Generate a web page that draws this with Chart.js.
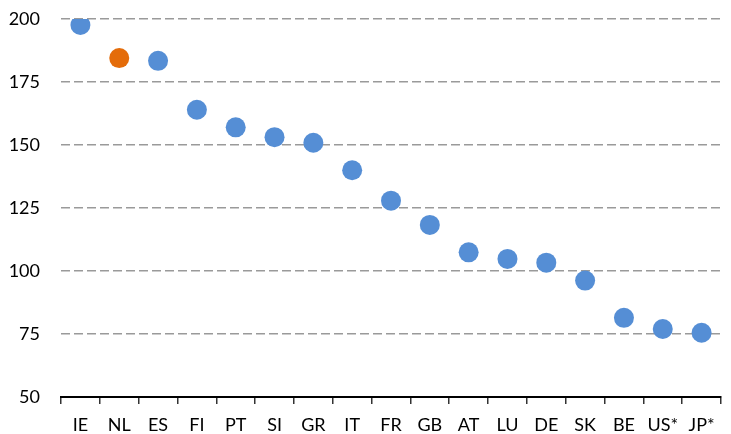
<!DOCTYPE html>
<html lang="en">
<head>
    <meta charset="UTF-8">
    <title>Dot chart</title>
    <script src="https://cdn.jsdelivr.net/npm/chart.js"></script>
    <style>
        html, body { margin: 0; padding: 0; background: #fff; }
        #chart { display: block; }
    </style>
</head>
<body>
    <canvas id="chart" width="731" height="434"></canvas>

    <script>
        const paises = ['IE', 'NL', 'ES', 'FI', 'PT', 'SI', 'GR', 'IT', 'FR', 'GB', 'AT', 'LU', 'DE', 'SK', 'BE', 'US*', 'JP*'];
        const valores = [197.6, 184.5, 183.4, 164, 157, 153.1, 150.9, 140, 127.9, 118.3, 107.4, 104.8, 103.3, 96.2, 81.4, 77, 75.5];
        const yMin = 50;
        const yMax = 200;
        const yPaso = 25;

        const azul = '#558ED5';
        const naranja = '#E46C0A';
        const colores = paises.map(p => p === 'NL' ? naranja : azul);

        const ctx = document.getElementById('chart').getContext('2d');
        new Chart(ctx, {
            type: 'scatter',
            data: {
                labels: paises,
                datasets: [{
                    data: valores,
                    pointRadius: 10,
                    pointHoverRadius: 10,
                    pointBackgroundColor: colores,
                    pointBorderColor: colores,
                    pointBorderWidth: 0,
                    showLine: false
                }]
            },
            options: {
                responsive: false,
                animation: false,
                layout: { padding: 0 },
                plugins: {
                    legend: { display: false },
                    tooltip: { enabled: false }
                },
                scales: {
                    x: {
                        type: 'category',
                        offset: true,
                        afterFit: scale => { scale.height = 37; },
                        grid: {
                            offset: true,
                            drawOnChartArea: false,
                            drawTicks: true,
                            tickLength: 7,
                            color: '#333',
                            lineWidth: 1.5
                        },
                        border: { display: true, color: '#000', width: 2 },
                        ticks: {
                            color: '#000',
                            padding: 10,
                            maxRotation: 0,
                            autoSkip: false,
                            font: { family: 'Lato', size: 18 }
                        }
                    },
                    y: {
                        min: yMin,
                        max: yMax,
                        afterFit: scale => {
                            scale.width = 61;
                            scale.paddingTop = 19;
                            scale.paddingBottom = 0;
                        },
                        grid: {
                            drawTicks: false,
                            color: '#9a9a9a',
                            lineWidth: 1.5
                        },
                        border: { display: false, dash: [9, 4] },
                        ticks: {
                            stepSize: yPaso,
                            color: '#000',
                            padding: 21,
                            font: { family: 'Lato', size: 18 }
                        }
                    }
                }
            }
        });
    </script>
</body>
</html>
